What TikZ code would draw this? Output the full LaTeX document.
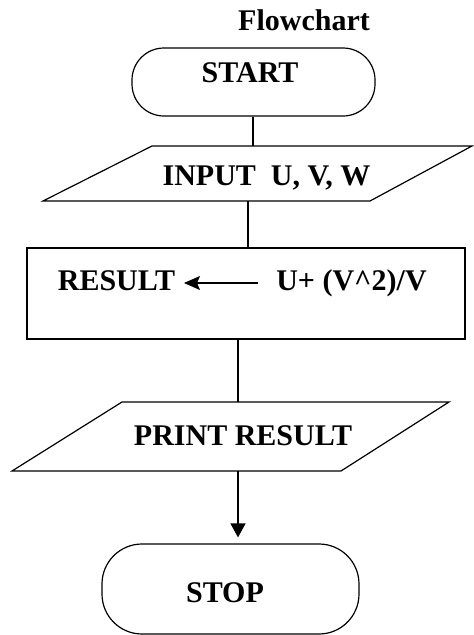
\documentclass[tikz,border=0pt]{standalone}
\usepackage{fontspec}
\setmainfont{Liberation Serif}
\usetikzlibrary{arrows.meta}
\begin{document}
\begin{tikzpicture}[x=1pt,y=-1pt,
  shp/.style={draw=black, line width=1.2pt, fill=white},
  term/.style={shp, rectangle, inner sep=0pt},
  box/.style={inner sep=0pt, outer sep=0pt},
  txt/.style={inner sep=0pt, anchor=base, font=\fontsize{30}{36}\selectfont\bfseries},
  conn/.style={line width=1.2pt},
  arr/.style={conn, -{Triangle[width=15pt,length=14pt]}},
  arrsmall/.style={conn, -{Stealth[width=14pt,length=16pt,inset=3pt]}}
]
\useasboundingbox (0,0) rectangle (474,635);
\fill[white] (0,0) rectangle (474,635);

% title
\node[txt] (title) at (304,30) {Flowchart};

% START terminal
\node[term, minimum width=243pt, minimum height=68pt, rounded corners=32pt] (start) at (253.5,82) {};
\node[txt] (starttxt) at (250,82) {START};

% INPUT parallelogram
\node[box, minimum width=429pt, minimum height=55pt] (input) at (257.5,173.5) {};
\draw[shp] (152,146) -- (472,146) -- (370,201) -- (43,201) -- cycle;
\node[txt] (inputtxt) at (266.5,185) {INPUT\ \ U, V, W};

% process box
\node[shp, rectangle, minimum width=438pt, minimum height=91pt, inner sep=0pt] (proc) at (246,293.5) {};
\node[txt] (res) at (116.5,290) {RESULT};
\node[txt] (eq) at (351.5,290) {U+ (V\textasciicircum 2)/V};
\coordinate (ay) at (0,283);
\draw[arrsmall] (258,283) -- (184,283);

% PRINT parallelogram
\node[box, minimum width=437pt, minimum height=69pt] (print) at (230.5,436.5) {};
\draw[shp] (122,402) -- (449,402) -- (341,471) -- (12,471) -- cycle;
\node[txt] (printtxt) at (243,445) {PRINT RESULT};

% STOP terminal
\node[term, minimum width=257pt, minimum height=90pt, rounded corners=40pt] (stop) at (230.5,589) {};
\node[txt] (stoptxt) at (225,602) {STOP};

% connectors
\coordinate (c1) at (253,0);
\coordinate (c2) at (248,0);
\coordinate (c3) at (238,0);
\draw[conn] (c1 |- start.south) -- (c1 |- input.north);
\draw[conn] (c2 |- input.south) -- (c2 |- proc.north);
\draw[conn] (c3 |- proc.south) -- (c3 |- print.north);
\draw[arr, shorten >=6pt] (c3 |- print.south) -- (c3 |- stop.north);
\end{tikzpicture}
\end{document}
